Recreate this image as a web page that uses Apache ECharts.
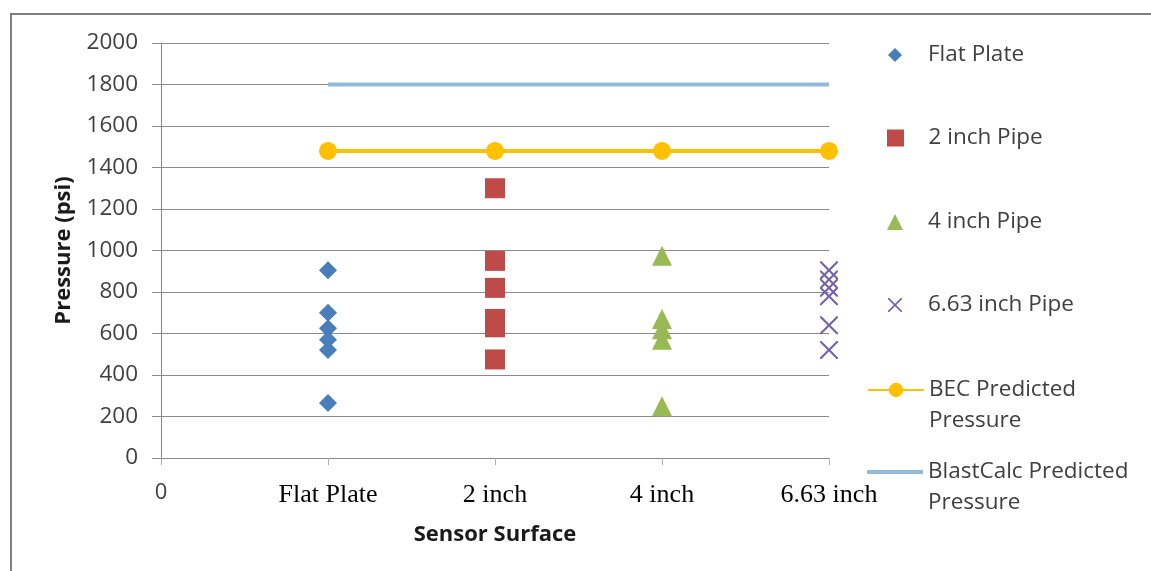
<!DOCTYPE html>
<html>
<head>
<meta charset="utf-8">
<style>
  html, body { margin: 0; padding: 0; background: #fff; }
  #chart { width: 1151px; height: 571px; }
</style>
<script src="https://cdn.jsdelivr.net/npm/echarts@6/dist/echarts.min.js"></script>
</head>
<body>
<div id="chart"></div>
<script>
// Sensor surfaces along the x axis (position 0 is the bare origin)
const xTickLabels = ['0', 'Flat Plate', '2 inch', '4 inch', '6.63 inch'];
const yTicks = { min: 0, max: 2000, step: 200 };

// Measured peak pressures (psi) for each surface
const flatPlate = [905, 700, 625, 570, 520, 265];
const pipe2in = [1300, 950, 820, 670, 630, 475];
const pipe4in = [975, 670, 620, 570, 250];
const pipe663in = [905, 860, 820, 780, 640, 520];

// Predicted pressures (psi), one per surface
const becPredicted = [1480, 1480, 1480, 1480];
const blastCalcPredicted = [1800, 1800, 1800, 1800];

const seriesNames = ['Flat Plate', '2 inch Pipe', '4 inch Pipe', '6.63 inch Pipe',
  'BEC Predicted Pressure', 'BlastCalc Predicted Pressure'];

const at = (pos, values) => values.map(v => [pos, v]);
const predictedPoints = values => values.map((v, i) => [i + 1, v]);

const SANS = '"Open Sans", "Noto Sans", sans-serif';
const SERIF = '"Liberation Serif", "DejaVu Serif", serif';
const GRID_GRAY = '#8a8a8a';

// marker outlines as paths so legend icons keep their aspect ratio
const shapes = {
  diamond: 'path://M5,0L10,5L5,10L0,5Z',
  square: 'path://M0,0H10V10H0Z',
  triangle: 'path://M5,0L10,10H0Z',
  cross: 'path://M0,0L1.5,0L9,7.5L16.5,0L18,0L18,1.5L10.5,9L18,16.5L18,18L16.5,18L9,10.5L1.5,18L0,18L0,16.5L7.5,9L0,1.5Z',
  bar: 'path://M0,0H56V4H0Z'
};

const colors = {
  flat: '#4A7EBB',
  p2: '#BE4B48',
  p4: '#98B954',
  p663: '#7464A8',
  bec: '#FFC000',
  blast: '#93BADC'
};

const LEGEND_LINE = 31;

// one legend block per entry so each row sits at its own height
function legendBlock(name, centerY, icon, iconHeight, twoLine, left) {
  const item = icon ? { name: name, icon: icon } : { name: name };
  return {
    left: left,
    top: twoLine ? centerY - LEGEND_LINE * 1.5 : centerY - LEGEND_LINE / 2,
    padding: 0,
    orient: 'vertical',
    selectedMode: false,
    symbolKeepAspect: true,
    itemWidth: 56,
    itemHeight: iconHeight,
    data: [item],
    // leading blank line keeps the first text line level with the icon
    formatter: n => twoLine ? ' \n' + n.replace(' Pressure', '\nPressure') : n,
    textStyle: {
      fontFamily: SANS, fontSize: 22.5, color: '#404040', lineHeight: LEGEND_LINE
    }
  };
}

const chart = echarts.init(document.getElementById('chart'), null, { renderer: 'canvas' });

chart.setOption({
  animation: false,
  backgroundColor: '#ffffff',
  graphic: [{
    type: 'rect',
    shape: { x: 11, y: 14, width: 1200, height: 620 },
    style: { fill: 'none', stroke: '#808080', lineWidth: 2 },
    silent: true,
    z: -10
  }],
  grid: { left: 161, right: 322, top: 43, bottom: 113, containLabel: false },
  xAxis: {
    type: 'value',
    min: 0,
    max: xTickLabels.length - 1,
    interval: 1,
    name: 'Sensor Surface',
    nameLocation: 'middle',
    nameGap: 66,
    nameTextStyle: { fontFamily: SANS, fontSize: 22, fontWeight: 'bold', color: '#1a1a1a' },
    splitLine: { show: false },
    axisLine: { show: true, lineStyle: { color: GRID_GRAY, width: 1 } },
    axisTick: { show: true, length: 7, lineStyle: { color: '#b0b0b0' } },
    axisLabel: {
      margin: 24,
      showMinLabel: true,
      showMaxLabel: true,
      formatter: v => {
        const i = Math.round(v);
        return i === 0 ? '{z|' + xTickLabels[0] + '}' : '{c|' + xTickLabels[i] + '}';
      },
      rich: {
        z: { fontFamily: SANS, fontSize: 22, color: '#404040' },
        c: { fontFamily: SERIF, fontSize: 26, color: '#000000' }
      }
    }
  },
  yAxis: {
    type: 'value',
    min: yTicks.min,
    max: yTicks.max,
    interval: yTicks.step,
    name: 'Pressure (psi)',
    nameLocation: 'middle',
    nameGap: 86,
    nameTextStyle: { fontFamily: SANS, fontSize: 22, fontWeight: 'bold', color: '#1a1a1a' },
    axisLine: { show: true, lineStyle: { color: GRID_GRAY, width: 1 } },
    axisTick: { show: true, length: 9, lineStyle: { color: GRID_GRAY } },
    splitLine: { show: true, lineStyle: { color: GRID_GRAY, width: 1 } },
    axisLabel: {
      margin: 23, fontFamily: SANS, fontSize: 22.5, color: '#404040',
      formatter: v => String(v)
    }
  },
  legend: [
    legendBlock(seriesNames[0], 55, shapes.diamond, 14, false, 888),
    legendBlock(seriesNames[1], 138, shapes.square, 17, false, 887),
    legendBlock(seriesNames[2], 222, shapes.triangle, 16, false, 887),
    legendBlock(seriesNames[3], 305, shapes.cross, 14, false, 888),
    legendBlock(seriesNames[4], 390, null, 18, true, 867),
    legendBlock(seriesNames[5], 472, shapes.bar, 4, true, 867)
  ],
  series: [
    {
      name: seriesNames[5], type: 'line', data: predictedPoints(blastCalcPredicted),
      symbol: 'none', color: colors.blast,
      lineStyle: { color: colors.blast, width: 4 }, z: 2
    },
    {
      name: seriesNames[4], type: 'line', data: predictedPoints(becPredicted),
      symbol: 'circle', symbolSize: 18, showSymbol: true, color: colors.bec,
      itemStyle: { color: colors.bec },
      lineStyle: { color: colors.bec, width: 4 }, z: 3
    },
    {
      name: seriesNames[0], type: 'scatter', data: at(1, flatPlate),
      symbol: 'diamond', symbolSize: 18, itemStyle: { color: colors.flat, opacity: 1 }, z: 4
    },
    {
      name: seriesNames[1], type: 'scatter', data: at(2, pipe2in),
      symbol: 'rect', symbolSize: 20, itemStyle: { color: colors.p2, opacity: 1 }, z: 4
    },
    {
      name: seriesNames[2], type: 'scatter', data: at(3, pipe4in),
      symbol: 'triangle', symbolSize: 20, itemStyle: { color: colors.p4, opacity: 1 }, z: 4
    },
    {
      name: seriesNames[3], type: 'scatter', data: at(4, pipe663in),
      symbol: shapes.cross, symbolSize: 18, itemStyle: { color: colors.p663, opacity: 1 }, z: 4
    }
  ]
});
</script>
</body>
</html>
